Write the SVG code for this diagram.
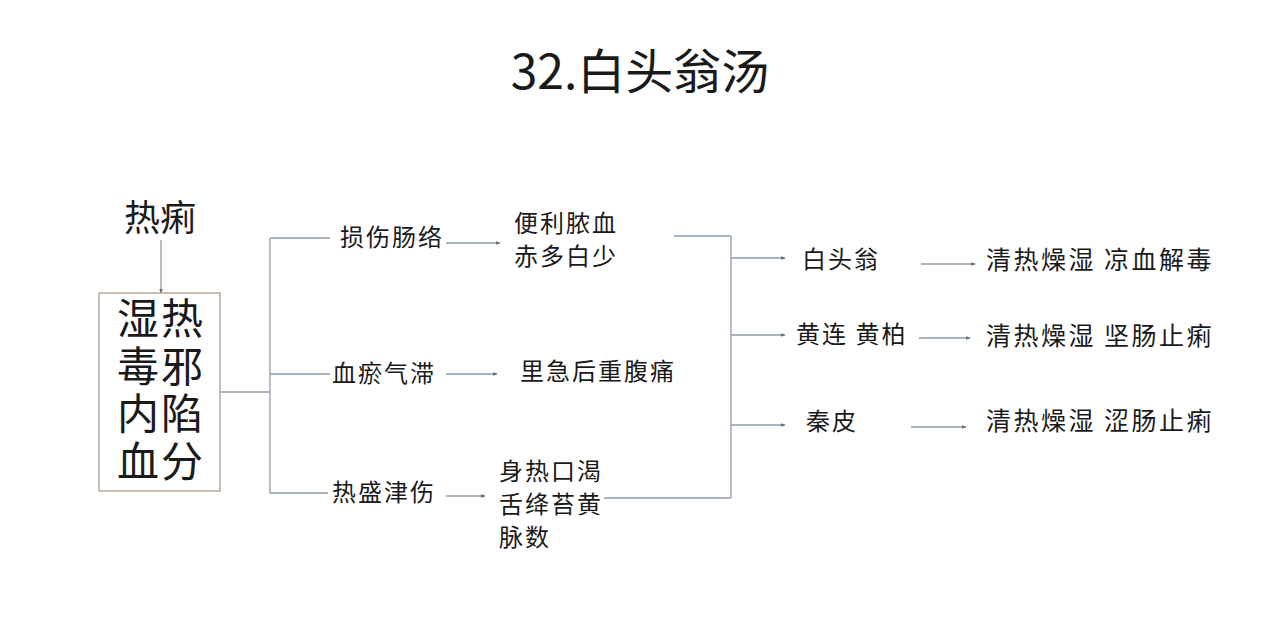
<svg xmlns="http://www.w3.org/2000/svg" width="1280" height="634" viewBox="0 0 1280 634">
<style>
.t{font-family:"Noto Sans CJK SC","Liberation Sans",sans-serif;fill:#1a1a1a}
.lb{font-size:24px;letter-spacing:2px}
.rt{font-size:25px;letter-spacing:2.5px}
.big{font-size:42px;letter-spacing:2px}
.ln{stroke:#8e9cab;stroke-width:1.3;fill:none}
.ar{stroke:#8e9cab;stroke-width:1.3;fill:none;marker-end:url(#ah)}
</style>
<defs>
<marker id="ah" viewBox="0 0 10 10" refX="9" refY="5" markerWidth="5" markerHeight="5" orient="auto" markerUnits="userSpaceOnUse">
<path d="M0,1 L10,5 L0,9 z" fill="#5f6f80"/>
</marker>
</defs>
<rect width="1280" height="634" fill="#ffffff"/>
<text id="title" class="t" x="640" y="89" font-size="48" text-anchor="middle">32.白头翁汤</text>
<g id="connectors">
<line class="ar" x1="161" y1="240" x2="161" y2="293"/>
<polyline class="ln" points="220,392 270,392"/>
<line class="ln" x1="270" y1="238" x2="270" y2="493"/>
<line class="ln" x1="270" y1="238" x2="330" y2="238"/>
<line class="ln" x1="270" y1="374" x2="330" y2="374"/>
<line class="ln" x1="270" y1="493" x2="328" y2="493"/>
<line class="ar" x1="446" y1="243" x2="500" y2="243"/>
<line class="ar" x1="446" y1="374" x2="497" y2="374"/>
<line class="ar" x1="446" y1="496" x2="485" y2="496"/>
<line class="ln" x1="674" y1="236" x2="731" y2="236"/>
<line class="ln" x1="604" y1="498" x2="731" y2="498"/>
<line class="ln" x1="731" y1="236" x2="731" y2="498"/>
<line class="ar" x1="731" y1="258" x2="785" y2="258"/>
<line class="ar" x1="731" y1="335" x2="785" y2="335"/>
<line class="ar" x1="731" y1="425" x2="785" y2="425"/>
<line class="ar" x1="921" y1="264" x2="975" y2="264"/>
<line class="ar" x1="919" y1="338" x2="970" y2="338"/>
<line class="ar" x1="911" y1="427" x2="966" y2="427"/>
</g>
<g id="n-reli"><text class="t" x="160" y="231" font-size="36" text-anchor="middle">热痢</text></g>
<g id="n-main">
<rect x="99" y="293" width="121" height="198" fill="#ffffff" stroke="#b39a88" stroke-width="1.3"/>
<text class="t big" x="117" y="334">湿热</text>
<text class="t big" x="117" y="382">毒邪</text>
<text class="t big" x="117" y="429">内陷</text>
<text class="t big" x="117" y="477">血分</text>
</g>
<g id="n-a1"><text class="t lb" x="340" y="246">损伤肠络</text></g>
<g id="n-a2"><text class="t lb" x="332" y="382">血瘀气滞</text></g>
<g id="n-a3"><text class="t lb" x="332" y="501">热盛津伤</text></g>
<g id="n-b1"><text class="t lb"><tspan x="514" y="232">便利脓血</tspan><tspan x="514" y="265">赤多白少</tspan></text></g>
<g id="n-b2"><text class="t lb" x="520" y="380">里急后重腹痛</text></g>
<g id="n-b3"><text class="t lb"><tspan x="499" y="480">身热口渴</tspan><tspan x="499" y="513">舌绛苔黄</tspan><tspan x="499" y="546">脉数</tspan></text></g>
<g id="n-c1"><text class="t lb" x="802" y="268">白头翁</text></g>
<g id="n-c2"><text class="t lb" x="796" y="343">黄连 黄柏</text></g>
<g id="n-c3"><text class="t lb" x="806" y="430">秦皮</text></g>
<g id="n-d1"><text class="t rt" x="986" y="269">清热燥湿 凉血解毒</text></g>
<g id="n-d2"><text class="t rt" x="986" y="345">清热燥湿 坚肠止痢</text></g>
<g id="n-d3"><text class="t rt" x="986" y="430">清热燥湿 涩肠止痢</text></g>
</svg>
